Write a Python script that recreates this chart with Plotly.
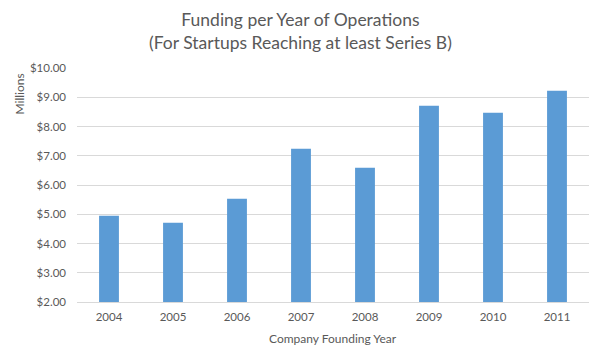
import plotly.graph_objects as go

years = ["2004", "2005", "2006", "2007", "2008", "2009", "2010", "2011"]
funding = [4.95, 4.71, 5.53, 7.24, 6.59, 8.71, 8.47, 9.22]
y_ticks = [2, 3, 4, 5, 6, 7, 8, 9, 10]
y_tick_labels = ["$%.2f" % v for v in y_ticks]
axis_floor = 2

FONT = "Lato, Calibri, Carlito, sans-serif"
GRAY = "#595959"

fig = go.Figure(go.Bar(
    x=years, y=[v - axis_floor for v in funding], base=axis_floor,
    marker_color="#5B9BD5", marker_line_width=0,
    customdata=funding, hovertemplate="%{x}: $%{customdata:.2f}M<extra></extra>",
))

# page body adds an 8px offset; figure is sized to fit the 600x357 window
fig.update_layout(
    width=592, height=349,
    margin=dict(l=69, r=11, t=60, b=55, autoexpand=False),
    paper_bgcolor="white", plot_bgcolor="white",
    bargap=0.69,
    showlegend=False,
    font=dict(family=FONT, color=GRAY, size=11),
    xaxis=dict(
        type="category", showgrid=False, showline=True, linecolor="#D9D9D9",
        linewidth=1, ticks="", tickfont=dict(size=11.5, color=GRAY),
        ticklabelstandoff=4, automargin=False,
    ),
    yaxis=dict(
        range=[2, 10], tickvals=y_ticks, ticktext=y_tick_labels,
        showgrid=True, gridcolor="#D9D9D9", gridwidth=1, zeroline=False,
        showline=False, ticks="", ticklabelstandoff=10,
        tickfont=dict(size=11.5, color=GRAY), automargin=False,
    ),
    annotations=[
        dict(text="Funding per Year of Operations<br>(For Startups Reaching at least Series B)",
             xref="paper", yref="paper", x=0.5, xshift=-33, y=1.0, yshift=61,
             xanchor="center", yanchor="top", showarrow=False,
             font=dict(family=FONT, size=17.5, color=GRAY)),
        dict(text="Company Founding Year", xref="paper", yref="paper",
             x=0.5, y=0, yshift=-36, xanchor="center", yanchor="middle", showarrow=False,
             font=dict(family=FONT, size=12, color=GRAY)),
        dict(text="Millions", textangle=-90, xref="paper", yref="paper",
             x=0, xshift=-58, y=1.0, yshift=-4, xanchor="center", yanchor="top",
             showarrow=False, font=dict(family=FONT, size=12, color=GRAY)),
    ],
)

fig.write_html("out.html")
